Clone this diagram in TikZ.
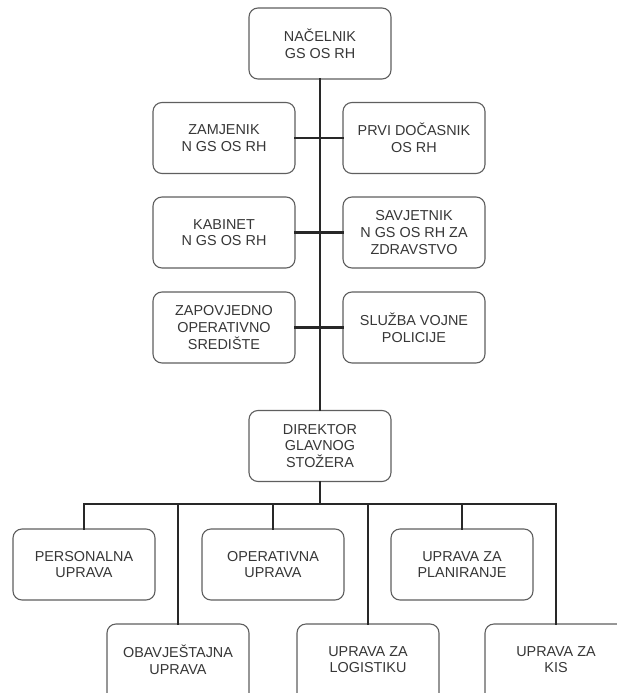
\documentclass[tikz,border=0pt]{standalone}
\usepackage{fontspec}
\usepackage{tikz}
\usetikzlibrary{positioning,calc}
\newfontfamily\orgfont{Liberation Sans}
\definecolor{boxline}{RGB}{95,95,95}
\definecolor{connline}{RGB}{40,40,40}
\definecolor{orgtext}{RGB}{55,55,55}

\begin{document}
\begin{tikzpicture}[
  x=1pt,y=-1pt,
  font=\orgfont\fontsize{14.4}{16.6}\selectfont,
  unit/.style={draw=boxline,line width=1.1pt,fill=white,rounded corners=9pt,
               minimum width=142pt,minimum height=71pt,
               align=center,inner sep=2pt,text=orgtext},
  lowunit/.style={unit,minimum height=84pt},
  conn/.style={draw=connline,line width=2.5pt,line cap=rect},
]
  \useasboundingbox (0,0) rectangle (617,693);
  \clip (0,0) rectangle (617,693);

  % top of the staff
  \node[unit] (nac) at (320,43.5) {NAČELNIK\\GS OS RH};
  \node[unit] (dir) at (320,446) {DIREKTOR\\GLAVNOG\\STOŽERA};
  \coordinate (bus) at (320,504);

  % staff pairs on the spine
  \node[unit] (zam) at (224,138) {ZAMJENIK\\N GS OS RH};
  \node[unit] (prvi) at (414,138) {PRVI DOČASNIK\\OS RH};
  \node[unit] (kab) at (224,232.5) {KABINET\\N GS OS RH};
  \node[unit] (sav) at (414,232.5) {SAVJETNIK\\N GS OS RH ZA\\ZDRAVSTVO};
  \node[unit] (zos) at (224,327.5) {ZAPOVJEDNO\\OPERATIVNO\\SREDIŠTE};
  \node[unit] (svp) at (414,327.5) {SLUŽBA VOJNE\\POLICIJE};

  % directorates
  \node[unit] (per) at (84,564.5) {PERSONALNA\\UPRAVA};
  \node[unit] (ope) at (273,564.5) {OPERATIVNA\\UPRAVA};
  \node[unit] (pla) at (462,564.5) {UPRAVA ZA\\PLANIRANJE};
  \node[lowunit] (oba) at (178,666) {OBAVJEŠTAJNA\\UPRAVA\\[-4pt]\mbox{}};
  \node[lowunit] (log) at (368,666) {UPRAVA ZA\\LOGISTIKU\\[-4pt]\mbox{}};
  \node[lowunit] (kis) at (556,666) {UPRAVA ZA\\KIS\\[-4pt]\mbox{}};

  \draw[conn] (nac) -- (dir);
  \draw[conn] (zam) -- (prvi);
  \draw[conn] (kab) -- (sav);
  \draw[conn] (zos) -- (svp);
  \draw[conn] (dir) -- (bus);
  \draw[conn] (per.north) -- (per.north |- bus) -- (kis.north |- bus) -- (kis.north);
  \foreach \b in {oba,ope,log,pla}
    \draw[conn] (\b.north) -- (\b.north |- bus);
\end{tikzpicture}
\end{document}
